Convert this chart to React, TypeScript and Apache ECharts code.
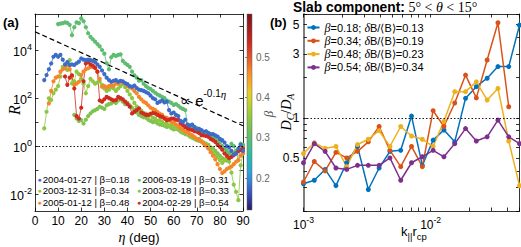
import React, { useEffect, useRef } from "react";
import * as echarts from "echarts";

const SANS = "'Liberation Sans', Arial, Helvetica, sans-serif";
const SERIF = "'Liberation Serif', 'DejaVu Serif', serif";

// ---------- Panel (a) ----------
const ETA_MIN = 0;
const ETA_MAX = 90;
const ETA_STEP = 10;
const LOG10R_MIN = -2.7;
const LOG10R_MAX = 5.5;
const LOG10R_TICKS = [-2, -1, 0, 1, 2, 3, 4, 5];
const LOG10R_LABELS = [-2, 0, 2, 4];

// reference line  R ∝ e^{-0.1 η}
const EXP_LINE_ETA = [0, 90];
const EXP_LINE_LOG10R = [4.76, 0.85];

const B018_START = 4;
const B018_LOG10R = [2.75, 2.96, 3.2, 3.44, 3.72, 3.8, 3.72, 3.8, 3.6, 3.4,
  3.5, 3.38, 3.4, 3.38, 3.45, 3.52, 3.65, 3.6, 3.58, 3.6,
  3.58, 3.55, 3.5, 3.4, 3.3, 3.15, 3.0, 2.85, 2.75, 2.68,
  2.72, 2.75, 2.68, 2.72, 2.7, 2.62, 2.58, 2.5, 2.47, 2.52,
  2.42, 2.35, 2.33, 2.3, 2.25, 2.2, 2.1, 2.0, 1.95, 1.8,
  1.85, 1.9, 1.82, 1.85, 1.5, 1.36, 1.4, 1.3, 1.25, 1.05,
  1.0, 1.1, 0.9, 0.85, 0.9, 0.8, 0.7, 0.72, 0.67, 0.6,
  0.62, 0.55, 0.5, 0.5, 0.45, 0.4, 0.3, 0.25, 0.15, 0.0,
  -0.05, -0.2, -0.35, -0.3, -0.1, 0.05, -0.2];

const B031_START = 10;
const B031_LOG10R = [5.08, 5.1, 5.12, 5.15, 5.13, 5.05, 4.62, 4.95, 5.15, 5.12,
  5.32, 5.2, 4.95, 4.7, 4.55, 4.45, 4.35, 4.25, 4.15, 4.0,
  3.85, 3.45, 3.2, 3.7, 3.8, 3.75, 3.8, 3.82, 3.55, 3.45,
  3.38, 3.3, 3.1, 2.95, 2.85, 2.72, 2.75, 2.6, 2.5, 2.42,
  2.38, 2.3, 2.22, 2.15, 2.1, 2.05, 2.0, 1.9, 1.85, 1.8,
  1.72, 1.75, 1.68, 1.6, 1.55, 1.5, 0.9, 0.85, 0.8, 0.7,
  0.75, 0.65, 0.6, 0.55, 0.5, 0.45, 0.4, 0.35, 0.3, 0.2,
  0.15, 0.0, -0.1, -0.2, -0.3, 0.1, 0.0, -0.24, -0.58, 0.1,
  0.05];

const B048_START = 6;
const B048_LOG10R = [1.78, 2.3, 2.7, 2.85, 2.9, 3.1, 3.2, 3.24, 3.38, 3.2,
  2.9, 2.55, 2.6, 2.68, 2.96, 3.1, 3.2, 3.24, 3.3, 3.3,
  3.28, 3.1, 2.8, 2.47, 2.5, 2.45, 2.5, 2.54, 2.52, 2.6,
  2.6, 2.68, 2.65, 2.6, 2.5, 2.45, 2.4, 2.3, 2.2, 2.05,
  1.95, 1.85, 1.8, 1.7, 1.6, 1.55, 1.5, 1.42, 1.35, 1.3,
  1.2, 1.18, 1.1, 1.0, 0.98, 0.9, 0.82, 0.75, 0.7, 0.6,
  0.58, 0.5, 0.45, 0.38, 0.3, 0.25, 0.2, 0.1, 0.02, -0.1,
  -0.25, -0.4, -0.55, -0.75, -0.95, -1.12, -1.05, -0.95, -0.9, -0.85,
  -0.75, -0.65, -0.58, -0.4, -0.3];

const B054_START = 13;
const B054_LOG10R = [2.9, 2.55, 2.85, 2.95, 2.4, 1.25, 1.15, 1.6, 2.7, 3.44,
  3.5, 3.4, 3.35, 3.25, 3.1, 1.9, 1.85, 1.95, 2.05, 2.0,
  1.95, 1.9, 1.92, 2.05, 2.0, 1.95, 1.85, 1.75, 1.64, 1.36,
  1.43, 1.5, 1.57, 1.4, 1.35, 1.3, 1.3, 1.35, 1.38, 1.36,
  1.3, 1.25, 1.22, 1.15, 1.08, 1.1, 1.15, 1.15, 1.1, 1.08,
  0.95, 0.88, 0.8, 0.74, 0.7, 0.67, 0.62, 0.6, 0.55, 0.46,
  0.45, 0.42, 0.39, 0.3, 0.25, 0.18, 0.05, -0.03, -0.15, -0.3,
  -0.4, -0.5, -0.45, -0.38, -0.3, -0.2, -0.17, -0.1];

const B034_START = 4;
const B034_LOG10R = [0.74, 1.43, 1.99, 1.92, 2.2, 2.35, 2.5, 2.9, 3.3, 3.38,
  3.17, 3.58, 2.61, 2.7, 3.1, 3.0, 2.8, 2.6, 2.2, 2.5,
  2.8, 2.7, 2.6, 2.65, 2.7, 2.55, 2.4, 2.3, 2.35, 2.45,
  2.4, 2.3, 2.4, 2.5, 2.6, 2.45, 2.3, 2.15, 2.0, 1.8,
  1.65, 1.5, 1.48, 1.38, 1.35, 1.25, 1.28, 1.18, 1.15, 1.05,
  1.08, 1.0, 0.92, 0.95, 0.85, 0.88, 0.8, 0.72, 0.75, 0.65,
  0.6, 0.58, 0.5, 0.45, 0.42, 0.32, 0.3, 0.22, 0.2, 0.1,
  0.05, -0.08, -0.15, -0.28, -0.38, -0.45, -0.58, -0.7, -0.6, -0.5,
  -0.65, -1.1, -1.6, -1.9, -2.25, -0.8, -0.3];

const B033_START = 17;
const B033_LOG10R = [1.3, 1.15, 1.05, 1.08, 0.94, 1.1, 1.25, 1.36, 1.45, 1.5,
  1.55, 1.64, 1.6, 1.55, 1.7, 1.75, 1.78, 1.85, 1.8, 1.9,
  1.95, 1.85, 1.75, 1.8, 1.7, 1.6, 1.5, 1.4, 1.3, 1.25,
  1.2, 1.18, 1.1, 1.05, 1.0, 1.02, 0.95, 0.9, 0.88, 0.85,
  0.8, 0.82, 0.75, 0.7, 0.72, 0.68, 0.6, 0.55, 0.5, 0.48,
  0.4, 0.35, 0.3, 0.25, 0.3, 0.2, 0.15, 0.1, 0.05, -0.05,
  -0.1, -0.2, -0.3, -0.4, -0.5, -0.55, -0.6, -0.5, -0.4, -0.3,
  -0.2, -0.15, -0.1, 0.0];

const EVENTS_A = [
  { name: "2003-02-18 | β=0.33", color: "#80c250", start: B033_START, vals: B033_LOG10R },
  { name: "2003-12-31 | β=0.34", color: "#8dc743", start: B034_START, vals: B034_LOG10R },
  { name: "2006-03-19 | β=0.31", color: "#5fbd72", start: B031_START, vals: B031_LOG10R },
  { name: "2005-01-12 | β=0.48", color: "#f5862a", start: B048_START, vals: B048_LOG10R },
  { name: "2004-02-29 | β=0.54", color: "#d12a1f", start: B054_START, vals: B054_LOG10R },
  { name: "2004-01-27 | β=0.18", color: "#3b6cc8", start: B018_START, vals: B018_LOG10R },
];
const LEGEND_A_COL1 = ["2004-01-27 | β=0.18", "2003-12-31 | β=0.34", "2005-01-12 | β=0.48"];
const LEGEND_A_COL2 = ["2006-03-19 | β=0.31", "2003-02-18 | β=0.33", "2004-02-29 | β=0.54"];

// colour bar (β)
const BETA_MIN = 0.1206;
const BETA_MAX = 0.607;
const BETA_TICKS = [0.2, 0.3, 0.4, 0.5];
const CMAP_BETA = [0.1206, 0.14, 0.165, 0.19, 0.215, 0.245, 0.28, 0.315, 0.35, 0.385, 0.41, 0.435, 0.465, 0.5, 0.535, 0.57, 0.607];
const CMAP_COLOR = ["#2a1b5e", "#2f3494", "#3558c4", "#3a7fd8", "#2ea3db", "#28b6b8", "#4abd86", "#6cc05f", "#93c83e", "#bfd12f", "#e4cf28", "#f7ad25", "#f58a2a", "#e5532a", "#cc2b22", "#a51d1f", "#751719"];

// ---------- Panel (b) ----------
const K_MIN = 0.001;
const K_MAX = 0.05;
const K_TICKS = [0.001, 0.002, 0.003, 0.004, 0.005, 0.006, 0.007, 0.008, 0.009, 0.01, 0.02, 0.03, 0.04, 0.05];
const K_LABELS = [0.001, 0.01];
const DR_MIN = 0.2;
const DR_MAX = 6;
const DR_TICKS = [0.2, 0.3, 0.4, 0.5, 0.6, 0.7, 0.8, 0.9, 1, 2, 3, 4, 5, 6];
const DR_LABELS = [0.5, 1, 3, 5];

const K_PAR_RCP = [0.001, 0.001216, 0.001479, 0.001799, 0.002187, 0.00266, 0.003235, 0.003934, 0.004784, 0.005818,
  0.007075, 0.008604, 0.01046, 0.01272, 0.01547, 0.01882, 0.02288, 0.02783, 0.03384, 0.04115, 0.05];
const DCDA_B018 = [0.32, 0.34, 0.41, 0.31, 0.46, 0.61, 0.29, 0.42, 0.56, 0.57, 1.03, 0.44, 0.68, 0.81, 0.66, 1.4, 1.71, 1.98, 2.42, 2.42, 4.95];
const DCDA_B034 = [0.33, 0.47, 0.4, 0.55, 0.5, 0.56, 0.66, 0.86, 0.57, 0.43, 0.61, 0.43, 1.13, 0.86, 1.29, 2.09, 1.41, 2.71, 5.16, 1.21];
const DCDA_B048 = [0.54, 0.65, 0.59, 0.61, 0.43, 0.63, 0.69, 0.8, 0.61, 0.86, 0.73, 0.69, 0.61, 0.94, 1.57, 1.57, 1.86, 1.36, 1.66, 0.67, 0.31];
const DCDA_B054 = [0.46, 0.64, 0.56, 0.42, 0.41, 0.44, 0.44, 0.44, 0.5, 0.34, 0.46, 0.51, 0.57, 0.51, 0.64, 0.83, 0.67, 0.72, 0.96, 0.72, 0.64];

const EVENTS_B = [
  { name: "β=0.18; δB/⟨B⟩=0.13", color: "#0072bd", vals: DCDA_B018 },
  { name: "β=0.34; δB/⟨B⟩=0.19", color: "#d95319", vals: DCDA_B034 },
  { name: "β=0.48; δB/⟨B⟩=0.23", color: "#edb120", vals: DCDA_B048 },
  { name: "β=0.54; δB/⟨B⟩=0.34", color: "#7e2f8e", vals: DCDA_B054 },
];

const lg = (v: number) => Math.log10(v);

function powRich(size = 12) {
  return {
    b: { fontFamily: SANS, fontSize: size, color: "#000", lineHeight: 16, verticalAlign: "bottom" },
    s: { fontFamily: SANS, fontSize: size * 0.72, color: "#000", lineHeight: 8, verticalAlign: "top" },
  };
}

function buildOption(): any {
  const tickStyle = { inside: true, length: 3.5, lineStyle: { color: "#000", width: 0.8 } };
  const lineBlack = { show: true, onZero: false, lineStyle: { color: "#000", width: 0.8 } };

  const gradStops = CMAP_BETA.map((b, i) => ({ offset: (b - BETA_MIN) / (BETA_MAX - BETA_MIN), color: CMAP_COLOR[i] }));

  const seriesA: any[] = EVENTS_A.map((ev) => ({
    type: "line",
    name: ev.name,
    xAxisIndex: 0,
    yAxisIndex: 0,
    data: ev.vals.map((v, i) => [ev.start + i, v]),
    symbol: "circle",
    symbolSize: 4.2,
    showSymbol: true,
    itemStyle: { color: ev.color },
    lineStyle: { color: ev.color, width: 0.8 },
    clip: true,
    silent: true,
  }));
  seriesA.push({
    type: "line",
    name: "exp",
    xAxisIndex: 0,
    yAxisIndex: 0,
    data: EXP_LINE_ETA.map((e, i) => [e, EXP_LINE_LOG10R[i]]),
    symbol: "none",
    lineStyle: { color: "#000", width: 1.2, type: [5, 3] },
    z: 5,
    silent: true,
    markLine: {
      silent: true,
      symbol: ["none", "none"],
      label: { show: false },
      lineStyle: { color: "#000", width: 0.9, type: [1.5, 2] },
      data: [{ yAxis: 0 }],
    },
  });

  const seriesB: any[] = EVENTS_B.map((ev) => ({
    type: "line",
    name: ev.name,
    xAxisIndex: 3,
    yAxisIndex: 3,
    data: ev.vals.map((v, i) => [lg(K_PAR_RCP[i]), lg(v)]),
    symbol: "circle",
    symbolSize: 5,
    itemStyle: { color: ev.color },
    lineStyle: { color: ev.color, width: 1.5 },
    clip: true,
    silent: true,
  }));
  seriesB[0].markLine = {
    silent: true,
    symbol: ["none", "none"],
    label: { show: false },
    lineStyle: { color: "#000", width: 0.9, type: [1.5, 2] },
    data: [{ yAxis: 0 }],
  };

  const legendARich: any = { t: { fontFamily: SANS, fontSize: 9.6, lineHeight: 11.3, color: "#000" } };
  EVENTS_A.forEach((ev, i) => {
    legendARich["d" + i] = { fontFamily: SANS, fontSize: 7, lineHeight: 11.3, color: ev.color, padding: [0, 1, 0, 0] };
  });
  const legendAFmt = (name: string) => {
    const i = EVENTS_A.findIndex((e) => e.name === name);
    return `{d${i}|●}{t|${name}}`;
  };
  const legendABase = {
    orient: "vertical",
    itemWidth: 0,
    itemHeight: 0,
    itemGap: 0,
    padding: 0,
    selectedMode: false,
    formatter: legendAFmt,
    textStyle: { fontFamily: SANS, fontSize: 9.6, lineHeight: 11.3, rich: legendARich },
  };

  return {
    animation: false,
    backgroundColor: "#fff",
    textStyle: { fontFamily: SANS },
    grid: [
      { left: 35, top: 14, width: 208, height: 197, containLabel: false },
      { left: 247, top: 14, width: 5, height: 196, show: true, backgroundColor: new echarts.graphic.LinearGradient(0, 1, 0, 0, gradStops), borderColor: "#666", borderWidth: 0.5 },
      { left: 303.5, top: 14, width: 216, height: 197, containLabel: false },
    ],
    xAxis: [
      {
        gridIndex: 0, type: "value", position: "bottom", min: ETA_MIN, max: ETA_MAX, interval: ETA_STEP,
        axisLine: lineBlack, axisTick: tickStyle, splitLine: { show: false },
        axisLabel: { fontFamily: SANS, fontSize: 12, color: "#000", margin: 4 },
      },
      {
        gridIndex: 0, type: "value", position: "top", min: ETA_MIN, max: ETA_MAX, interval: ETA_STEP,
        axisLine: lineBlack, axisTick: tickStyle, splitLine: { show: false }, axisLabel: { show: false },
      },
      {
        gridIndex: 1, type: "value", min: 0, max: 1, show: false,
      },
      {
        gridIndex: 2, type: "value", position: "bottom", min: lg(K_MIN), max: lg(K_MAX),
        axisLine: lineBlack, splitLine: { show: false },
        axisTick: { ...tickStyle, customValues: K_TICKS.map(lg) },
        axisLabel: {
          customValues: K_LABELS.map(lg), margin: 4,
          formatter: (v: number) => `{b|10}{s|-${Math.round(-v)}}`,
          rich: powRich(12),
        },
      },
      {
        gridIndex: 2, type: "value", position: "top", min: lg(K_MIN), max: lg(K_MAX),
        axisLine: lineBlack, splitLine: { show: false },
        axisTick: { ...tickStyle, customValues: K_TICKS.map(lg) },
        axisLabel: { show: false },
      },
    ],
    yAxis: [
      {
        gridIndex: 0, type: "value", position: "left", min: LOG10R_MIN, max: LOG10R_MAX,
        axisLine: lineBlack, splitLine: { show: false },
        axisTick: { ...tickStyle, customValues: LOG10R_TICKS },
        axisLabel: {
          customValues: LOG10R_LABELS, margin: 3,
          formatter: (v: number) => `{b|10}{s|${Math.round(v)}}`,
          rich: powRich(12.5),
        },
      },
      {
        gridIndex: 0, type: "value", position: "right", min: LOG10R_MIN, max: LOG10R_MAX,
        axisLine: lineBlack, splitLine: { show: false },
        axisTick: { ...tickStyle, customValues: LOG10R_TICKS },
        axisLabel: { show: false },
      },
      {
        gridIndex: 1, type: "value", position: "right", min: BETA_MIN, max: BETA_MAX,
        axisLine: { show: false }, splitLine: { show: false },
        axisTick: { show: true, inside: true, length: 2, customValues: BETA_TICKS, lineStyle: { color: "#333", width: 0.6 } },
        axisLabel: {
          customValues: BETA_TICKS, margin: 4, fontFamily: SANS, fontSize: 10, color: "#666",
          formatter: (v: number) => v.toFixed(1),
        },
      },
      {
        gridIndex: 2, type: "value", position: "left", min: lg(DR_MIN), max: lg(DR_MAX),
        axisLine: { show: true, onZero: false, lineStyle: { color: "#808080", width: 2 } },
        splitLine: { show: false },
        axisTick: { ...tickStyle, customValues: DR_TICKS.map(lg) },
        axisLabel: {
          customValues: DR_LABELS.map(lg), margin: 4, fontFamily: SANS, fontSize: 12, color: "#000",
          formatter: (v: number) => String(Number(Math.pow(10, v).toPrecision(3))),
        },
      },
      {
        gridIndex: 2, type: "value", position: "right", min: lg(DR_MIN), max: lg(DR_MAX),
        axisLine: lineBlack, splitLine: { show: false },
        axisTick: { ...tickStyle, customValues: DR_TICKS.map(lg) },
        axisLabel: { show: false },
      },
    ],
    legend: [
      { ...legendABase, left: 31.5, top: 174, data: LEGEND_A_COL1 },
      { ...legendABase, left: 131, top: 174, data: LEGEND_A_COL2 },
      {
        orient: "vertical", left: 306.5, top: 21, padding: 0, itemWidth: 12, itemHeight: 6, itemGap: 0.3,
        selectedMode: false,
        data: EVENTS_B.map((e) => e.name),
        formatter: (name: string) => name.replace("β", "{i|β}").replace("δ", "{i|δ}"),
        textStyle: {
          fontFamily: SANS, fontSize: 11, lineHeight: 13, color: "#000",
          rich: { i: { fontFamily: SERIF, fontStyle: "italic", fontSize: 12, lineHeight: 13, color: "#000" } },
        },
      },
    ],
    series: [...seriesA, ...seriesB],
    graphic: [
      { type: "text", x: 3, y: 22, style: { text: "(a)", font: `bold 13px ${SANS}`, fill: "#000", textVerticalAlign: "middle" } },
      { type: "text", x: 270, y: 22, style: { text: "(b)", font: `bold 13px ${SANS}`, fill: "#000", textVerticalAlign: "middle" } },
      {
        type: "text", x: 293, y: 7.5,
        style: {
          text: "{b|Slab component:}{m| 5° < }{mi|θ}{m| < 15°}",
          textVerticalAlign: "middle",
          rich: {
            b: { fontFamily: SANS, fontWeight: "bold", fontSize: 13.8, fill: "#000" },
            m: { fontFamily: SERIF, fontSize: 14, fill: "#000" },
            mi: { fontFamily: SERIF, fontStyle: "italic", fontSize: 14, fill: "#000" },
          },
        },
      },
      {
        type: "text", x: 14, y: 110, rotation: Math.PI / 2,
        style: { text: "R", font: `italic 16px ${SERIF}`, fill: "#000", textAlign: "center", textVerticalAlign: "middle" },
      },
      {
        type: "text", x: 139, y: 237,
        style: {
          text: "{i|η}{n| (deg)}", textAlign: "center", textVerticalAlign: "middle",
          rich: {
            i: { fontFamily: SERIF, fontStyle: "italic", fontSize: 14, fill: "#000" },
            n: { fontFamily: SANS, fontSize: 13, fill: "#000" },
          },
        },
      },
      {
        type: "text", x: 180, y: 98,
        style: {
          text: "{a|∝ e}{s|-0.1}{si|η}", textVerticalAlign: "middle",
          rich: {
            a: { fontFamily: SANS, fontSize: 15, fill: "#000", lineHeight: 20, verticalAlign: "bottom" },
            s: { fontFamily: SANS, fontSize: 10, fill: "#000", lineHeight: 11, verticalAlign: "top" },
            si: { fontFamily: SERIF, fontStyle: "italic", fontSize: 11, fill: "#000", lineHeight: 11, verticalAlign: "top" },
          },
        },
      },
      {
        type: "text", x: 268, y: 114, rotation: Math.PI / 2,
        style: { text: "β", font: `italic 13px ${SERIF}`, fill: "#555", textAlign: "center", textVerticalAlign: "middle" },
      },
      {
        type: "text", x: 287, y: 112, rotation: Math.PI / 2,
        style: {
          text: "{i|D}{sub|C}{n|/}{i|D}{sub|A}", textAlign: "center", textVerticalAlign: "middle",
          rich: {
            i: { fontFamily: SERIF, fontStyle: "italic", fontSize: 14, fill: "#000", lineHeight: 16, verticalAlign: "top" },
            n: { fontFamily: SERIF, fontSize: 14, fill: "#000", lineHeight: 16, verticalAlign: "top" },
            sub: { fontFamily: SERIF, fontStyle: "italic", fontSize: 10, fill: "#000", lineHeight: 8, verticalAlign: "bottom" },
          },
        },
      },
      {
        type: "text", x: 414, y: 233,
        style: {
          text: "{a|k}{sub|||}{a|r}{sub|cp}", textAlign: "center", textVerticalAlign: "middle",
          rich: {
            a: { fontFamily: SANS, fontSize: 13, fill: "#000", lineHeight: 16, verticalAlign: "top" },
            sub: { fontFamily: SANS, fontSize: 9.5, fill: "#000", lineHeight: 8, verticalAlign: "bottom" },
          },
        },
      },
    ],
  };
}

export default function App() {
  const ref = useRef<HTMLDivElement>(null);
  useEffect(() => {
    if (!ref.current) return;
    const chart = echarts.init(ref.current, null, { renderer: "svg" });
    chart.setOption(buildOption());
    return () => chart.dispose();
  }, []);
  return (
    <div
      ref={ref}
      style={{ position: "fixed", left: 0, top: 0, width: 521, height: 247, background: "#fff" }}
    />
  );
}
